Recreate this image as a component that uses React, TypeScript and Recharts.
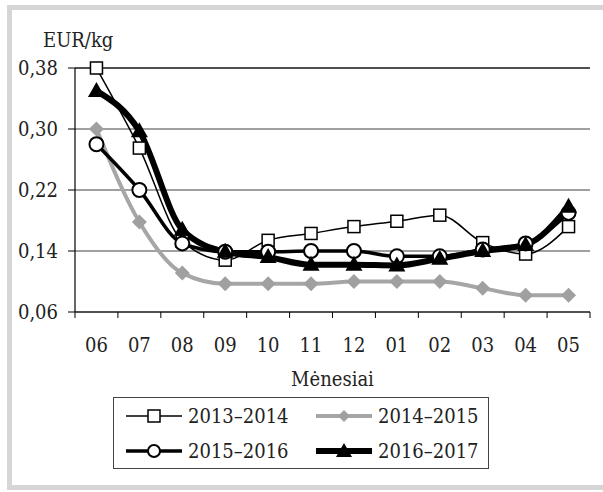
import { LineChart, Line, XAxis, YAxis, CartesianGrid, ReferenceLine, Legend } from "recharts";

const months = ["06", "07", "08", "09", "10", "11", "12", "01", "02", "03", "04", "05"];
const s1314 = [0.38, 0.275, 0.153, 0.128, 0.154, 0.163, 0.172, 0.179, 0.187, 0.151, 0.136, 0.172];
const s1415 = [0.3, 0.178, 0.111, 0.097, 0.097, 0.097, 0.1, 0.1, 0.1, 0.091, 0.082, 0.082];
const s1516 = [0.28, 0.22, 0.15, 0.139, 0.139, 0.14, 0.14, 0.133, 0.133, 0.142, 0.15, 0.19];
const s1617 = [0.35, 0.297, 0.168, 0.139, 0.132, 0.122, 0.122, 0.121, 0.13, 0.14, 0.148, 0.198];
const yTicks = [0.06, 0.14, 0.22, 0.3, 0.38];

const data = months.map((m, i) => ({
  month: m,
  s1314: s1314[i],
  s1415: s1415[i],
  s1516: s1516[i],
  s1617: s1617[i],
}));

const FONT = "'DejaVu Serif Condensed', 'DejaVu Serif'";
const txt = { fontFamily: FONT, fontStretch: "condensed" as const };
const FS = 20;
const HALF_BAND = 21.46;

const SquareDot = (p: any) => (
  <rect key={`sq-${p.index}`} x={p.cx - 6} y={p.cy - 6} width={12} height={12} fill="#fff" stroke="#000" strokeWidth={1.5} />
);
const DiamondDot = (p: any) => (
  <path key={`dm-${p.index}`} d={`M${p.cx},${p.cy - 7.5} L${p.cx + 7.5},${p.cy} L${p.cx},${p.cy + 7.5} L${p.cx - 7.5},${p.cy} Z`} fill="#a0a0a0" />
);
const CircleDot = (p: any) => (
  <circle key={`ci-${p.index}`} cx={p.cx} cy={p.cy} r={7} fill="#fff" stroke="#000" strokeWidth={2} />
);
const TriangleDot = (p: any) => (
  <path key={`tr-${p.index}`} d={`M${p.cx},${p.cy - 9} L${p.cx + 8.5},${p.cy + 6} L${p.cx - 8.5},${p.cy + 6} Z`} fill="#000" />
);

const MonthTick = (p: any) => {
  const { x, y, payload, index } = p;
  return (
    <g>
      <line x1={x - HALF_BAND} y1={y} x2={x - HALF_BAND} y2={y + 6} stroke="#000" strokeWidth={1} />
      {index === months.length - 1 && (
        <line x1={x + HALF_BAND} y1={y} x2={x + HALF_BAND} y2={y + 6} stroke="#000" strokeWidth={1} />
      )}
      <text x={x} y={y + 40} textAnchor="middle" fontSize={FS} style={txt} fill="#222">
        {payload.value}
      </text>
    </g>
  );
};

const icons: Record<string, JSX.Element> = {
  "2013–2014": (
    <svg width={56} height={20}>
      <line x1={0} y1={10} x2={56} y2={10} stroke="#000" strokeWidth={1.5} />
      <rect x={22} y={4} width={12} height={12} fill="#fff" stroke="#000" strokeWidth={1.5} />
    </svg>
  ),
  "2014–2015": (
    <svg width={56} height={20}>
      <line x1={0} y1={10} x2={56} y2={10} stroke="#a6a6a6" strokeWidth={4} />
      <path d="M28,4 L34,10 L28,16 L22,10 Z" fill="#a0a0a0" />
    </svg>
  ),
  "2015–2016": (
    <svg width={56} height={20}>
      <line x1={0} y1={10} x2={56} y2={10} stroke="#000" strokeWidth={3.5} />
      <circle cx={28} cy={10} r={6} fill="#fff" stroke="#000" strokeWidth={2} />
    </svg>
  ),
  "2016–2017": (
    <svg width={56} height={20}>
      <line x1={0} y1={10} x2={56} y2={10} stroke="#000" strokeWidth={6} />
      <path d="M28,2 L36,16 L20,16 Z" fill="#000" />
    </svg>
  ),
};

const legendPos = [
  { name: "2013–2014", left: 12, top: 18 },
  { name: "2014–2015", left: 202, top: 18 },
  { name: "2015–2016", left: 12, top: 53 },
  { name: "2016–2017", left: 202, top: 53 },
];

const LegendBox = () => (
  <div
    style={{
      position: "relative",
      width: 376,
      height: 72,
      border: "1px solid #444",
      boxSizing: "border-box",
      ...txt,
      fontSize: FS,
      color: "#222",
    }}
  >
    {legendPos.map((it) => (
      <div key={it.name} style={{ position: "absolute", left: it.left, top: it.top - 11, height: 22, display: "flex", alignItems: "center", lineHeight: "22px", whiteSpace: "nowrap" }}>
        {icons[it.name]}
        <span style={{ marginLeft: 6 }}>{it.name}</span>
      </div>
    ))}
  </div>
);

export default function App() {
  return (
    <div style={{ position: "absolute", left: 0, top: 0, width: 603, height: 492, overflow: "hidden", background: "#fff" }}>
      <div style={{ position: "absolute", left: 7, top: 5, width: 700, height: 475, border: "5px solid #d6d6d6" }} />
      <div style={{ position: "absolute", left: 43, top: 29, ...txt, fontSize: FS, lineHeight: "22px", color: "#222" }}>EUR/kg</div>
      <div style={{ position: "absolute", left: 0, top: 0 }}>
        <LineChart width={603} height={492} data={data} margin={{ top: 68, right: 13, bottom: 100, left: 0 }}>
          <CartesianGrid vertical={false} stroke="#808080" strokeWidth={1.5} />
          <XAxis
            dataKey="month"
            height={80}
            padding={{ left: HALF_BAND, right: HALF_BAND }}
            tickLine={false}
            tickSize={0}
            tickMargin={0}
            interval={0}
            axisLine={{ stroke: "#000", strokeWidth: 1.2 }}
            tick={<MonthTick />}
            label={{ value: "Mėnesiai", position: "insideBottom", offset: 6, fontSize: FS, style: txt, fill: "#222" }}
          />
          <YAxis
            width={75}
            domain={[0.06, 0.38]}
            ticks={yTicks}
            interval={0}
            tickSize={7}
            tickMargin={10}
            tickFormatter={(v: number) => v.toFixed(2).replace(".", ",")}
            tick={{ fontSize: FS, style: txt, fill: "#222" }}
            tickLine={{ stroke: "#000" }}
            axisLine={{ stroke: "#000", strokeWidth: 1.2 }}
          />
          <YAxis yAxisId="right" orientation="right" width={0} tick={false} tickLine={false} axisLine={{ stroke: "#808080", strokeWidth: 2 }} />
          <ReferenceLine y={0.38} stroke="#000" strokeWidth={1.2} />
          <Legend
            layout="horizontal"
            verticalAlign="middle"
            align="center"
            wrapperStyle={{ position: "absolute", left: 113, top: 397, width: 376, height: 72 }}
            content={() => <LegendBox />}
          />
          <Line type="monotone" dataKey="s1415" stroke="#a6a6a6" strokeWidth={4} dot={DiamondDot} activeDot={false} isAnimationActive={false} />
          <Line type="monotone" dataKey="s1314" stroke="#000" strokeWidth={1.5} dot={SquareDot} activeDot={false} isAnimationActive={false} />
          <Line type="monotone" dataKey="s1516" stroke="#000" strokeWidth={3.5} dot={CircleDot} activeDot={false} isAnimationActive={false} />
          <Line type="monotone" dataKey="s1617" stroke="#000" strokeWidth={6} dot={TriangleDot} activeDot={false} isAnimationActive={false} />
        </LineChart>
      </div>
    </div>
  );
}
